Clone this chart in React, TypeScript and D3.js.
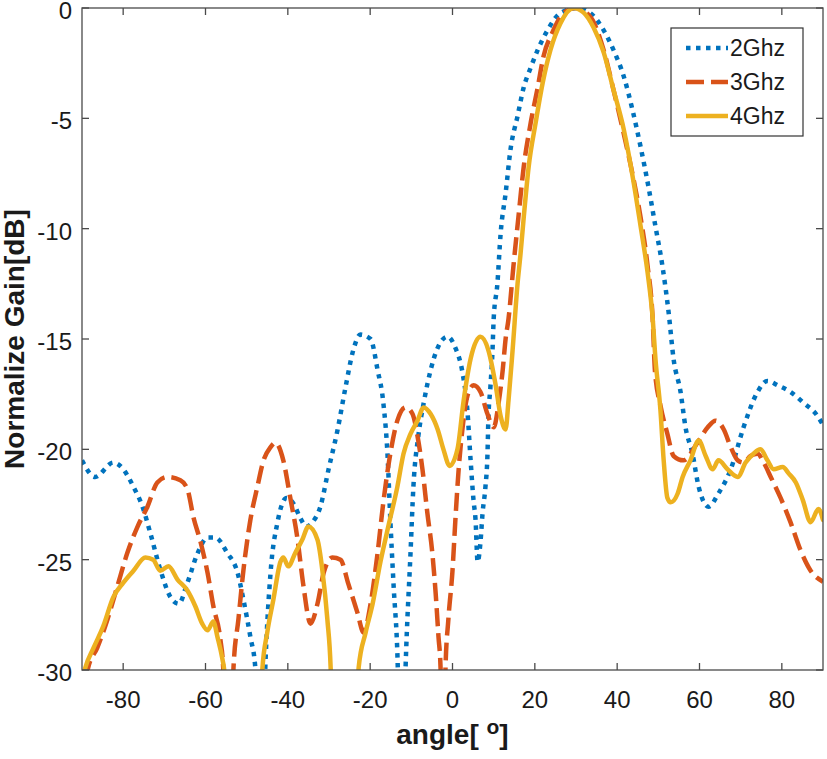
import * as d3 from "d3";

// angle [deg], normalized gain [dB]; values below -30 are nulls clipped by the axes
const ghz2: [number, number][] = [
  [-90, -20.5], [-86.8, -21.25], [-82.4, -20.6], [-80.2, -20.85], [-77.5, -21.7], [-75.3, -22.6],
  [-73.4, -23.8], [-70.9, -25.5], [-68.5, -26.7], [-66.5, -27.0], [-64.4, -26.05], [-61.9, -24.7],
  [-59.5, -24.0], [-57.6, -24.0], [-54.7, -24.7], [-52.2, -25.6], [-50.8, -26.8], [-49.1, -28.5],
  [-47.9, -29.9], [-47.2, -34], [-46.2, -34], [-45.4, -29.5], [-44.2, -25.6], [-42.5, -23.3],
  [-40.3, -22.2], [-38.5, -22.5], [-37, -23.1], [-35.5, -23.5], [-34, -23.3], [-32.1, -22.6],
  [-30.1, -20.9], [-27.9, -19.1], [-26.0, -17.2], [-24.1, -15.5], [-22.4, -14.8], [-19.9, -15.0],
  [-18.2, -16.4], [-16.8, -17.9], [-15.8, -20.2], [-15.1, -23.2], [-14.3, -26.2], [-13.4, -29.2],
  [-12.7, -34], [-12.0, -34], [-11.4, -29.9], [-10.2, -24.7], [-9.5, -21.7], [-8.3, -19.4],
  [-7.0, -17.9], [-5.3, -16.4], [-3.6, -15.4], [-1.2, -14.9], [0.7, -15.4], [2.4, -16.5],
  [3.6, -18.2], [4.4, -20.5], [5.1, -22.3], [5.6, -23.2], [6.1, -25.1], [6.8, -24.2], [7.3, -22.9],
  [8.0, -21.7], [8.5, -20.2], [8.7, -18.7], [9.2, -17.2], [9.7, -15.6], [10.0, -14.1], [10.9, -12.5],
  [11.7, -10.2], [12.9, -8.4], [14.1, -6.4], [15.8, -4.9], [17.3, -3.6], [19.0, -2.7], [20.7, -1.9],
  [23.1, -1.0], [26.2, -0.23], [30.4, 0], [33.5, -0.23], [36.7, -1.0], [39.1, -1.9], [41.6, -3.1],
  [43.7, -4.6], [45.7, -6.3], [47.6, -8.1], [49.3, -9.9], [51.0, -11.7], [52.5, -13.8], [53.7, -15.9],
  [55.4, -17.4], [56.6, -19.0], [58.3, -20.2], [59.8, -21.7], [62.2, -22.6], [64.6, -22.0],
  [67.6, -20.9], [70.7, -19.0], [74.1, -17.4], [76.5, -16.9], [79.0, -17.1], [82.1, -17.4],
  [85.3, -17.9], [88.7, -18.5], [90, -18.9],
];

const ghz3: [number, number][] = [
  [-90, -31.5], [-88.5, -29.9], [-86.3, -29.0], [-83.8, -27.7], [-81.4, -26.2], [-79.0, -24.7],
  [-76.5, -23.5], [-74.1, -22.6], [-71.7, -21.5], [-69.3, -21.25], [-66.1, -21.4], [-64.4, -21.8],
  [-62.9, -23.1], [-61.2, -24.2], [-59.5, -25.6], [-58.1, -27.1], [-56.4, -28.6], [-55.7, -29.9],
  [-55.0, -34], [-54.0, -34], [-53.2, -29.9], [-52.0, -27.7], [-50.8, -25.5], [-49.1, -23.2],
  [-47.4, -21.7], [-45.9, -20.5], [-44.2, -19.9], [-43.0, -19.7], [-41.1, -20.5], [-39.4, -22.2],
  [-37.7, -24.0], [-36.2, -26.2], [-34.5, -27.9], [-32.8, -27.0], [-31.3, -25.6], [-29.2, -24.9],
  [-27.2, -25.0], [-25.3, -26.1], [-23.1, -27.4], [-21.6, -28.3], [-19.9, -27.0], [-18.2, -24.7],
  [-16.8, -22.4], [-15.1, -20.2], [-13.4, -18.7], [-11.4, -18.1], [-9.7, -18.4], [-8.5, -19.4],
  [-7.3, -20.9], [-6.1, -22.9], [-4.9, -24.7], [-4.1, -26.5], [-3.4, -28.5], [-2.9, -29.9],
  [-2.5, -34], [-2.0, -34], [-1.7, -29.9], [-1.0, -27.7], [0, -25.5], [0.7, -23.2], [1.5, -20.9],
  [2.4, -19.1], [3.6, -17.6], [5.1, -17.1], [6.8, -17.4], [8.5, -18.4], [10.0, -19.0], [11.2, -17.9],
  [12.2, -16.4], [12.9, -15.0], [13.6, -14.1], [14.8, -11.7], [16.0, -9.5], [17.3, -7.2], [19.0, -5.2],
  [20.7, -3.6], [22.1, -2.2], [24.3, -1.1], [27.0, -0.23], [29.9, 0], [33.5, -0.4], [36.7, -1.9],
  [39.1, -3.7], [41.6, -5.7], [43.7, -7.5], [45.7, -9.5], [47.4, -11.7], [48.6, -14.0], [49.2, -16.5],
  [50.5, -18.0], [52.2, -19.3], [53.7, -20.3], [56.1, -20.5], [59.5, -19.7], [62.0, -19.0],
  [63.9, -18.7], [65.9, -19.1], [67.6, -19.9], [69.3, -20.5], [70.7, -20.6], [72.4, -20.3],
  [74.1, -20.2], [75.6, -20.6], [77.3, -21.25], [79.7, -22.2], [82.1, -23.3], [84.6, -24.6],
  [87.0, -25.5], [90, -26.0],
];

const ghz4: [number, number][] = [
  [-90, -30.5], [-89.2, -29.9], [-87.2, -29.0], [-84.8, -28.0], [-82.4, -26.7], [-80.0, -26.05],
  [-77.5, -25.5], [-74.6, -24.9], [-72.7, -25.0], [-71.0, -25.5], [-69.0, -25.3], [-66.8, -25.9],
  [-64.4, -26.4], [-62.5, -27.1], [-60.8, -27.9], [-59.5, -28.2], [-58.1, -27.8], [-57.1, -28.5],
  [-55.9, -29.5], [-55.4, -30.1], [-54.5, -34], [-47, -34], [-46.2, -30], [-45.0, -28.3],
  [-43.5, -26.8], [-41.8, -25.1], [-41.1, -24.9], [-39.9, -25.3], [-38.2, -24.7], [-36.5, -24.1],
  [-35.0, -23.5], [-32.8, -24.1], [-31.6, -25.5], [-30.4, -27.7], [-29.6, -29.9], [-29, -34],
  [-23.5, -34], [-22.8, -29.9], [-21.1, -28.3], [-19.4, -27.0], [-17.5, -25.1], [-15.6, -23.5],
  [-13.4, -21.7], [-11.9, -20.2], [-10.2, -19.3], [-8.5, -18.7], [-7.0, -18.1], [-5.3, -18.4],
  [-3.6, -19.1], [-2.2, -20.0], [-0.7, -20.75], [1.2, -20.0], [2.7, -17.8], [4.4, -15.9], [6.8, -14.9],
  [8.7, -15.5], [10.4, -17.0], [11.7, -18.5], [12.9, -19.1], [13.6, -17.8], [14.6, -15.5], [15.8, -12.5],
  [16.5, -11.2], [17.3, -9.5], [18.5, -7.2], [20.2, -5.2], [21.9, -3.4], [23.8, -1.9], [26.2, -0.7],
  [29.4, 0], [31.8, -0.2], [34.3, -0.9], [36.7, -2.0], [39.1, -3.7], [41.6, -5.5], [44.0, -7.9],
  [45.7, -9.9], [47.4, -12.0], [48.6, -14.0], [49.3, -15.9], [50.5, -18.2], [51.3, -20.5], [52.2, -22.2],
  [53.0, -22.4], [54.7, -22.0], [55.9, -21.25], [57.8, -20.5], [59.8, -19.6], [61.5, -20.3],
  [63.2, -20.9], [64.6, -20.5], [66.8, -20.9], [69.3, -21.25], [71.2, -20.6], [73.1, -20.2],
  [74.8, -20.0], [76.5, -20.5], [78.0, -20.9], [80.2, -20.8], [81.7, -21.1], [83.4, -21.5],
  [85.1, -22.3], [87.0, -23.3], [88.9, -22.7], [90, -23.2],
];

const xTicks = [-80, -60, -40, -20, 0, 20, 40, 60, 80];
const yTicks = [0, -5, -10, -15, -20, -25, -30];
const seriesNames = ["2Ghz", "3Ghz", "4Ghz"];

const series = [
  { name: seriesNames[0], data: ghz2, color: "#0072BD", dash: "4.5,5.5", cap: "butt" },
  { name: seriesNames[1], data: ghz3, color: "#D95319", dash: "18,7", cap: "butt" },
  { name: seriesNames[2], data: ghz4, color: "#EDB120", dash: "none", cap: "round" },
];

const W = 827;
const H = 759;
const margin = { top: 8, right: 4, bottom: 89, left: 82 };
const iw = W - margin.left - margin.right;
const ih = H - margin.top - margin.bottom;
const font = "'Liberation Sans', Arial, Helvetica, sans-serif";
const axisColor = "#4a4a4a";

export default function App() {
  const x = d3.scaleLinear().domain([-90, 90]).range([0, iw]);
  const y = d3.scaleLinear().domain([-30, 0]).range([ih, 0]);

  const line = d3
    .line<[number, number]>()
    .x((d) => x(d[0]))
    .y((d) => y(d[1]))
    .curve(d3.curveMonotoneX);

  const tickLen = 7;

  return (
    <div style={{ position: "absolute", left: 0, top: 0 }}>
      <svg width={W} height={H} style={{ display: "block", background: "#fff" }}>
        <defs>
          <clipPath id="plotClip">
            <rect x={0} y={0} width={iw} height={ih} />
          </clipPath>
        </defs>
        <g transform={`translate(${margin.left},${margin.top})`}>
          {/* curves */}
          <g clipPath="url(#plotClip)">
            {series.map((s) => (
              <path
                key={s.name}
                d={line(s.data) || ""}
                fill="none"
                stroke={s.color}
                strokeWidth={4.5}
                strokeDasharray={s.dash}
                strokeLinecap={s.cap as any}
                strokeLinejoin="round"
              />
            ))}
          </g>

          {/* axes box */}
          <rect x={0} y={0} width={iw} height={ih} fill="none" stroke={axisColor} strokeWidth={1.3} />

          {/* x ticks, inward on bottom and top */}
          {xTicks.map((t) => (
            <g key={"x" + t}>
              <line x1={x(t)} x2={x(t)} y1={ih} y2={ih - tickLen} stroke={axisColor} strokeWidth={1.3} />
              <line x1={x(t)} x2={x(t)} y1={0} y2={tickLen} stroke={axisColor} strokeWidth={1.3} />
              <text
                x={x(t)}
                y={ih + 30}
                dy="0.35em"
                textAnchor="middle"
                fontFamily={font}
                fontSize={24}
                fill="#1a1a1a"
              >
                {t}
              </text>
            </g>
          ))}

          {/* y ticks, inward on left and right */}
          {yTicks.map((t) => (
            <g key={"y" + t}>
              <line x1={0} x2={tickLen} y1={y(t)} y2={y(t)} stroke={axisColor} strokeWidth={1.3} />
              <line x1={iw} x2={iw - tickLen} y1={y(t)} y2={y(t)} stroke={axisColor} strokeWidth={1.3} />
              <text
                x={-10}
                y={y(t) + 2.5}
                dy="0.35em"
                textAnchor="end"
                fontFamily={font}
                fontSize={24}
                fill="#1a1a1a"
              >
                {t}
              </text>
            </g>
          ))}

          {/* legend */}
          <g transform={`translate(${671 - margin.left},${28 - margin.top})`}>
            <rect x={0} y={0} width={132} height={108} fill="#fff" stroke="#333" strokeWidth={1.2} />
            {series.map((s, i) => (
              <g key={"lg" + s.name} transform={`translate(0,${20 + i * 34})`}>
                <line
                  x1={15}
                  x2={57}
                  y1={0}
                  y2={0}
                  stroke={s.color}
                  strokeWidth={4.5}
                  strokeDasharray={s.dash}
                />
                <text x={59} y={0} dy="0.35em" fontFamily={font} fontSize={23} fill="#1a1a1a">
                  {s.name}
                </text>
              </g>
            ))}
          </g>
        </g>

        {/* axis labels */}
        <text
          transform={`translate(24,${margin.top + ih / 2}) rotate(-90)`}
          textAnchor="middle"
          fontFamily={font}
          fontWeight="bold"
          fontSize={28}
          fill="#1a1a1a"
        >
          Normalize Gain[dB]
        </text>
        <text
          x={margin.left + iw / 2}
          y={744}
          textAnchor="middle"
          fontFamily={font}
          fontWeight="bold"
          fontSize={28}
          fill="#1a1a1a"
        >
          angle[ <tspan fontSize={21} dy={-10}>o</tspan>
          <tspan dy={10}>]</tspan>
        </text>
      </svg>
    </div>
  );
}
